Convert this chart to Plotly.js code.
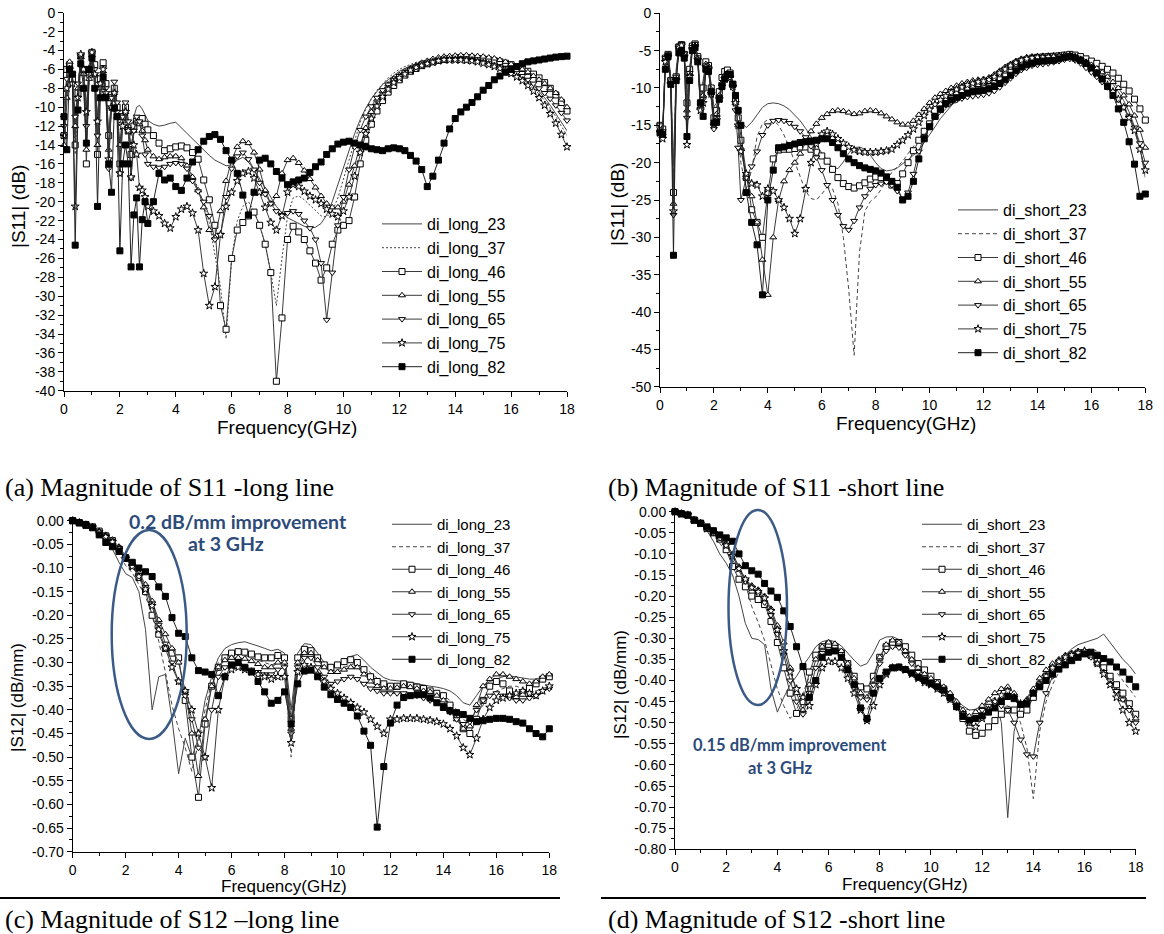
<!DOCTYPE html>
<html><head><meta charset="utf-8">
<script src="https://cdn.plot.ly/plotly-3.0.1.min.js"></script>
<style>html,body{margin:0;padding:0;background:#fff;}#chart{width:1164px;height:934px;}</style>
</head><body><div id="chart"></div>
<script>
// ---------- frequency grids (GHz) ----------
const fS11 = [0,0.1,0.2,0.3,0.4,0.5,0.6,0.7,0.8,0.9,1.0,1.1,1.2,1.3,1.4,1.5,1.6,1.7,1.8,1.9,2.0,2.1,2.2,2.3,2.4,2.5,2.6,2.7,2.8,2.9,3.0,
 3.2,3.4,3.6,3.8,4.0,4.2,4.4,4.6,4.8,5.0,5.2,5.4,5.6,5.8,6.0,6.2,6.4,6.6,6.8,7.0,7.2,7.4,7.6,7.8,8.0,8.2,8.4,8.6,8.8,9.0,9.2,9.4,9.6,9.8,10.0,
 10.2,10.4,10.6,10.8,11.0,11.2,11.4,11.6,11.8,12.0,12.2,12.4,12.6,12.8,13.0,13.2,13.4,13.6,13.8,14.0,14.2,14.4,14.6,14.8,15.0,15.2,15.4,15.6,15.8,16.0,16.2,16.4,16.6,16.8,17.0,17.2,17.4,17.6,17.8,18.0];
const fS12 = [0,0.25,0.5,0.75,1,1.25,1.5,1.75,2,2.25,2.5,2.75,3,3.25,3.5,3.75,4,4.25,4.5,4.75,5,5.25,5.5,5.75,
 6,6.25,6.5,6.75,7,7.25,7.5,7.75,8,8.25,8.5,8.75,9,9.25,9.5,9.75,10,10.25,10.5,10.75,11,11.25,11.5,11.75,
 12,12.25,12.5,12.75,13,13.25,13.5,13.75,14,14.25,14.5,14.75,15,15.25,15.5,15.75,16,16.25,16.5,16.75,17,17.25,17.5,17.75,18];

// ---------- (a) |S11| long line (dB) ----------
const s11Long23 = [-10,-7,-5.8,-6.5,-13,-8,-4.8,-6,-10,-5.5,-4.3,-6.5,-11,-7.5,-6,-8,-13,-9.5,-8,-10,-14,-10.5,-9.5,-11.5,-13,-11,-10,-9.8,-10.2,-10.8,-11.4,
 -11.8,-12,-11.9,-11.7,-11.6,-12.2,-12.8,-13.4,-14,-14.6,-15.1,-15.6,-15.9,-16.2,-16.1,-15.6,-15.3,-15.8,-16.6,-17.6,-18.6,-19.6,-20.5,-21.2,-21.7,-22,-22.3,-22.6,-22.8,-22.7,-22.3,-21.4,-20,-18.2,-16.4,
 -14.5,-12.8,-11.3,-10.1,-9.1,-8.3,-7.6,-7.1,-6.6,-6.2,-5.9,-5.6,-5.4,-5.2,-5.1,-5.0,-4.9,-4.85,-4.8,-4.8,-4.8,-4.85,-4.9,-5.0,-5.1,-5.25,-5.4,-5.6,-5.85,-6.1,-6.4,-6.8,-7.2,-7.7,-8.3,-9.0,-9.8,-10.7,-11.6,-12.5];
const s11Long37 = [-12,-8,-6,-7,-15,-9,-5,-6.5,-11,-6,-4.6,-7,-12,-8,-6.2,-8.5,-14,-10,-8.2,-10.5,-15,-11,-10,-12,-15,-12.5,-11.5,-11.8,-12.5,-13.5,-14.5,
 -15.2,-15.6,-15.5,-15.2,-15,-15.3,-16,-17.2,-18.6,-20.2,-22.2,-25.5,-29,-34.5,-26,-22,-20.5,-20,-21,-22.5,-24.5,-27.5,-31,-26,-21.5,-19.6,-19.4,-19.8,-20.4,-21,-21.5,-21.6,-21,-19.6,-17.6,
 -15.4,-13.4,-11.6,-10.2,-9.1,-8.2,-7.5,-6.9,-6.4,-6.0,-5.7,-5.45,-5.25,-5.1,-5.0,-4.9,-4.8,-4.75,-4.7,-4.7,-4.75,-4.8,-4.9,-5.0,-5.15,-5.3,-5.5,-5.7,-5.95,-6.2,-6.6,-7.0,-7.5,-8.0,-8.6,-9.3,-10.1,-11.0,-12.0,-13.0];
const s11Long46 = [-13,-6,-5.5,-7,-14,-8.5,-4.6,-6,-16,-6.5,-4.2,-5.5,-15,-7,-5.3,-7.5,-13,-9,-8,-10,-16,-11,-10,-12.5,-15,-12,-11.5,-11.2,-11.2,-11.8,-12.4,
 -13,-13.8,-14.6,-14.4,-14.2,-14.1,-14.3,-14.8,-15.5,-17.7,-19.8,-22.5,-31,-33.5,-26,-23,-22.2,-21.5,-21.1,-22.5,-24.5,-27.5,-39,-32.3,-24,-22.6,-23.2,-24,-25.2,-26.5,-28.3,-27,-24.5,-23,-22.5,
 -22,-19.5,-16,-13.5,-11.8,-10.4,-9.3,-8.4,-7.7,-7.1,-6.6,-6.2,-5.9,-5.6,-5.4,-5.2,-5.05,-4.95,-4.85,-4.8,-4.75,-4.75,-4.8,-4.85,-4.9,-5.0,-5.1,-5.2,-5.35,-5.5,-5.7,-5.9,-6.2,-6.5,-6.9,-7.4,-8.0,-8.7,-9.5,-10.4];
const s11Long55 = [-14,-9,-5.2,-6.5,-12,-8,-4.7,-6.5,-14.5,-7,-4.5,-6.5,-14,-8,-6.2,-8.5,-14.5,-10,-8.5,-11,-14,-11.5,-10.5,-12,-14,-12.5,-11.5,-11.8,-12.5,-13.5,-14.5,
 -15.2,-15.5,-15.3,-15.2,-15.2,-15.4,-16.2,-17.4,-18.8,-20.6,-23,-23.8,-21,-17.8,-15.6,-14.2,-13.6,-13.8,-14.8,-16.6,-18.8,-20.2,-19.4,-17,-15.6,-15.4,-15.9,-16.7,-17.6,-18.5,-19.4,-20.2,-20.6,-20.6,-20,
 -18.2,-16.2,-14,-12.2,-10.5,-9.2,-8.3,-7.6,-7.0,-6.6,-6.2,-5.9,-5.6,-5.3,-5.1,-4.9,-4.75,-4.65,-4.6,-4.55,-4.5,-4.5,-4.55,-4.6,-4.65,-4.75,-4.85,-5.0,-5.2,-5.45,-5.7,-6.0,-6.3,-6.7,-7.1,-7.5,-8.0,-8.5,-9.2,-10];
const s11Long65 = [-12,-7,-5.5,-6.5,-11,-7.5,-4.6,-6,-12,-6.5,-4.4,-6,-13,-7.5,-5.8,-8,-16.5,-9,-7.3,-9.5,-17,-11,-9.5,-11.5,-17.5,-12.5,-11,-11.5,-13,-15,-16,
 -16.3,-16.4,-16.3,-16,-15.9,-16,-16.5,-17.8,-18.9,-20,-21.5,-24,-23.5,-19.5,-16.5,-15.2,-14.8,-15.5,-16.6,-18,-19.2,-20.2,-21,-21.4,-21.2,-21,-21.3,-22,-22.8,-24,-26.5,-32.5,-27.5,-22.5,-19.5,
 -16.6,-14.2,-12.4,-11.0,-9.9,-9.0,-8.2,-7.6,-7.1,-6.7,-6.3,-6.0,-5.7,-5.5,-5.3,-5.15,-5.0,-4.95,-4.9,-4.9,-4.9,-4.95,-5.0,-5.1,-5.2,-5.35,-5.5,-5.7,-5.9,-6.15,-6.4,-6.7,-7.1,-7.5,-8.0,-8.5,-9.1,-9.8,-10.6,-11.4];
const s11Long75 = [-13,-8,-6,-7.5,-20.5,-9,-4.4,-6,-10.5,-6,-4.2,-6.5,-11.5,-7.5,-6,-8.5,-15.5,-10,-8.5,-10.5,-17,-12,-10.5,-12.5,-17.4,-14,-15,-18.5,-18.8,-19.5,-20.5,
 -21,-21.5,-22.3,-22.8,-21.6,-20.8,-20.5,-21.2,-23,-27.6,-31,-29,-23.5,-20.5,-19,-17.8,-17,-16.8,-17.5,-19,-20.6,-22.2,-23,-21.5,-19,-18.2,-18.4,-18.9,-19.4,-19.8,-20.2,-20.8,-21.3,-21.6,-21,
 -19.5,-17.3,-14.8,-12.8,-11.2,-9.9,-8.9,-8.1,-7.4,-6.9,-6.5,-6.1,-5.8,-5.6,-5.4,-5.25,-5.1,-5.0,-5.0,-5.0,-5.0,-5.05,-5.1,-5.2,-5.35,-5.5,-5.7,-5.9,-6.15,-6.45,-6.8,-7.2,-7.7,-8.3,-9.0,-9.8,-10.7,-11.7,-12.9,-14.2];
const s11Long82 = [-11,-14.5,-6,-6.5,-24.6,-10.3,-5.4,-8,-13.8,-6,-4.8,-8,-20.5,-9,-6.8,-9,-16,-19,-10.1,-11,-25.2,-16,-14,-16,-26.9,-21.4,-19.6,-26.9,-21.9,-20,-22.3,
 -20,-17,-17.7,-17.5,-18.4,-18.8,-17.5,-15.8,-14.5,-13.6,-13.1,-12.9,-13.4,-14.6,-15.6,-17.0,-19.3,-21.4,-19,-15.6,-15.4,-16,-16.8,-17.5,-18.2,-17.9,-17.7,-17.5,-16.9,-16.3,-15.8,-15,-14.4,-13.9,-13.7,
 -13.6,-13.8,-14.0,-14.2,-14.4,-14.5,-14.6,-14.4,-14.3,-14.4,-14.6,-15.1,-15.7,-16.6,-18.4,-17.3,-15.6,-13.8,-12.3,-11.2,-10.5,-10.0,-9.5,-8.9,-8.2,-7.7,-7.1,-6.7,-6.3,-6.0,-5.7,-5.4,-5.2,-5.1,-5.0,-4.9,-4.8,-4.7,-4.65,-4.6];

// ---------- (b) |S11| short line (dB) ----------
const s11Short23 = [-15,-15.5,-6,-5.4,-8.5,-20,-7.5,-4.5,-4.3,-5.5,-10,-7,-4.5,-4.3,-5.8,-10.5,-9,-6.5,-7,-9.5,-12.5,-12,-10,-8.8,-8,-7.8,-8.2,-9.2,-11,-13,-14.5,
 -15.3,-14.6,-13.6,-12.6,-12.1,-12,-12.1,-12.4,-12.9,-13.6,-14.4,-15.4,-16.5,-17.7,-18.8,-19.8,-20.6,-20.8,-19.9,-18.7,-18,-17.9,-18.2,-19,-20,-20.8,-21.1,-21,-20.7,-20.2,-19.6,-19,-18.3,-17.3,-16.3,
 -15.2,-14.1,-13.2,-12.4,-11.7,-11.1,-10.6,-10.2,-9.9,-9.7,-9.5,-9.3,-9.0,-8.6,-8.1,-7.6,-7.2,-6.9,-6.7,-6.5,-6.4,-6.3,-6.25,-6.15,-6.0,-5.9,-6.0,-6.2,-6.5,-6.9,-7.4,-8.0,-8.7,-9.5,-10.5,-11.7,-13.2,-15.2,-18,-22];
const s11Short37 = [-15.5,-16,-6.5,-5.6,-9,-22,-8,-4.6,-4.4,-5.6,-11,-7.5,-4.6,-4.4,-6,-11,-9.5,-6.7,-7.2,-10,-13,-12.5,-10.5,-9.2,-8.3,-8,-8.5,-10,-12.5,-16,-20,
 -23.5,-21,-16.5,-14.8,-14.2,-14.3,-15,-16.3,-18,-20,-22,-23.8,-24.8,-25,-24.2,-23.3,-23.5,-25.5,-30,-37,-45.8,-32,-26.5,-25.2,-24.6,-23.6,-22.3,-21.3,-20.6,-19.8,-18.8,-17.8,-16.8,-15.8,-14.9,
 -14.1,-13.4,-12.8,-12.3,-11.9,-11.5,-11.2,-11.0,-10.9,-10.8,-10.6,-10.2,-9.6,-9.0,-8.4,-7.9,-7.5,-7.2,-7.0,-6.9,-6.8,-6.75,-6.6,-6.4,-6.2,-6.1,-6.2,-6.5,-7.0,-7.6,-8.3,-9.0,-9.8,-10.6,-11.6,-12.7,-14.0,-15.6,-18.0,-21.5];
const s11Short46 = [-15,-15.5,-6,-5.5,-9,-24,-8.5,-4.5,-4.2,-5.5,-12,-7.5,-4.4,-4.1,-5.8,-12,-10,-6.5,-7,-10,-14,-13,-10.5,-8.6,-7.8,-7.6,-8,-9.5,-11.5,-14,-17,
 -22,-26.3,-28,-30,-24,-19.5,-18.3,-18.2,-18.2,-18.1,-17.9,-17.9,-18.2,-18.6,-19.1,-19.8,-20.9,-22,-22.8,-23.2,-23.4,-23.1,-22.7,-22.2,-21.9,-22,-22.4,-23,-22.8,-21.5,-20,-18.4,-17,-15.8,-14.8,
 -13.8,-12.9,-12.1,-11.4,-10.8,-10.3,-9.9,-9.6,-9.4,-9.2,-9.0,-8.6,-8.1,-7.6,-7.1,-6.7,-6.4,-6.2,-6.0,-5.9,-5.85,-5.8,-5.75,-5.7,-5.6,-5.5,-5.6,-5.8,-6.1,-6.4,-6.7,-7.1,-7.5,-8.0,-8.7,-9.5,-10.4,-11.5,-12.8,-14.3];
const s11Short55 = [-15.5,-16,-6.2,-5.5,-9.2,-25.5,-8.6,-4.5,-4.2,-5.6,-13,-8,-4.6,-4.2,-6,-12.5,-11,-6.8,-7.1,-10.2,-14.5,-13.5,-11,-9.3,-8.4,-8,-8.4,-9.5,-12,-15,-18,
 -22,-24.5,-28,-33,-37.7,-30,-25,-22.5,-21,-20,-18.8,-17.3,-15.8,-14.8,-14,-13.5,-13.1,-13,-13.1,-13.3,-13.5,-13.4,-13.1,-13,-13.1,-13.4,-13.8,-14.2,-14.6,-14.9,-14.9,-14.4,-13.6,-12.8,-12,
 -11.3,-10.8,-10.4,-10.0,-9.7,-9.4,-9.2,-9.0,-8.9,-8.8,-8.6,-8.2,-7.7,-7.2,-6.8,-6.4,-6.1,-5.9,-5.8,-5.75,-5.7,-5.7,-5.7,-5.65,-5.6,-5.6,-5.8,-6.1,-6.5,-6.9,-7.4,-7.9,-8.5,-9.2,-10.0,-11.0,-12.2,-13.7,-15.6,-18];
const s11Short65 = [-15,-15.8,-6,-5.5,-9,-27,-8.5,-4.4,-4.1,-5.4,-14,-8,-4.5,-4.1,-5.9,-12.8,-11.5,-7,-7.3,-11,-15.5,-14,-11.2,-9.5,-8.6,-8.2,-8.6,-10,-13,-18,-25,
 -22,-20.5,-18.5,-16.3,-15,-14.4,-14.3,-14.4,-14.7,-15.2,-15.8,-16.6,-17.8,-19.3,-21,-23,-25,-27,-28.5,-29,-27.8,-26,-24.5,-23.5,-23,-22.8,-22.6,-23,-23.8,-24.8,-24,-21.5,-18.5,-16.5,-15,
 -13.8,-12.9,-12.3,-11.9,-11.6,-11.4,-11.2,-11.1,-11.0,-10.9,-10.7,-10.4,-9.9,-9.3,-8.7,-8.1,-7.6,-7.3,-7.0,-6.9,-6.8,-6.7,-6.55,-6.4,-6.2,-6.1,-6.3,-6.7,-7.3,-7.9,-8.5,-9.2,-9.9,-10.7,-11.6,-12.6,-13.8,-15.3,-17.4,-20];
const s11Short75 = [-16,-16.8,-6.5,-5.8,-9.5,-26.5,-9,-4.6,-4.3,-5.8,-17.6,-8.5,-4.8,-4.4,-6.2,-13,-12,-7.2,-7.5,-10.8,-15,-14.3,-11.5,-9.8,-8.8,-8.3,-8.6,-9.8,-12,-15,-18.5,
 -21.5,-22.8,-23,-24.5,-23.5,-23.8,-25,-26,-27.5,-29.5,-27.5,-23.5,-20,-17.5,-16.2,-15.8,-16.2,-16.8,-17.4,-17.9,-18.3,-18.5,-18.6,-18.6,-18.6,-18.5,-18.4,-18.2,-17.6,-17,-16.3,-15.5,-14.6,-13.7,-12.9,
 -12.2,-11.6,-11.1,-10.6,-10.2,-9.9,-9.6,-9.4,-9.2,-9.1,-8.9,-8.5,-8.0,-7.5,-7.0,-6.6,-6.3,-6.1,-6.0,-5.9,-5.9,-5.85,-5.8,-5.75,-5.7,-5.65,-5.9,-6.3,-6.8,-7.4,-8.1,-8.8,-9.6,-10.5,-11.5,-12.6,-14.0,-15.7,-18.2,-21];
const s11Short82 = [-16,-16.2,-7.5,-5.8,-9.5,-32.4,-9,-5.3,-5,-6,-16.5,-9,-5,-4.6,-6.5,-12,-13.8,-7.5,-7.8,-10.5,-14.7,-14.6,-11.5,-9.8,-8.8,-8.2,-8.2,-9.5,-11,-13,-15,
 -24,-28,-31,-37.7,-25,-21,-18,-17.9,-17.7,-17.5,-17.3,-17.2,-17.1,-17,-16.8,-16.8,-17.3,-18,-18.8,-19.5,-20,-20.4,-20.7,-20.9,-21.1,-21.4,-21.9,-22.5,-23.3,-25,-24.5,-22.5,-19.5,-16.8,-15.2,
 -13.8,-12.8,-12.1,-11.6,-11.3,-11.0,-10.7,-10.5,-10.4,-10.3,-10.1,-9.8,-9.4,-8.9,-8.3,-7.7,-7.2,-6.9,-6.7,-6.5,-6.4,-6.35,-6.3,-6.1,-5.9,-5.8,-6.0,-6.3,-6.7,-7.3,-8.0,-8.8,-9.8,-11.0,-12.8,-14.6,-17.2,-20.2,-24.5,-24.2];

// ---------- (c) |S12| long line (dB/mm) ----------
const s12Long23 = [0,-0.005,-0.01,-0.015,-0.025,-0.035,-0.06,-0.088,-0.112,-0.12,-0.15,-0.23,-0.4,-0.33,-0.325,-0.42,
 -0.535,-0.46,-0.5,-0.46,-0.38,-0.33,-0.29,-0.27,-0.262,-0.258,-0.256,-0.26,-0.265,-0.27,-0.275,-0.272,
 -0.28,-0.4,-0.28,-0.26,-0.262,-0.28,-0.3,-0.31,-0.305,-0.295,-0.287,-0.283,-0.295,-0.31,-0.322,-0.332,
 -0.337,-0.338,-0.34,-0.342,-0.345,-0.348,-0.35,-0.352,-0.355,-0.36,-0.37,-0.385,-0.39,-0.37,-0.35,-0.34,
 -0.335,-0.33,-0.328,-0.33,-0.332,-0.335,-0.335,-0.33,-0.325];
const s12Long37 = [0,-0.004,-0.009,-0.014,-0.024,-0.034,-0.045,-0.07,-0.095,-0.11,-0.135,-0.16,-0.2,-0.255,-0.32,-0.39,
 -0.44,-0.48,-0.53,-0.47,-0.4,-0.34,-0.3,-0.285,-0.28,-0.28,-0.285,-0.29,-0.295,-0.3,-0.305,-0.3,
 -0.3,-0.5,-0.3,-0.275,-0.275,-0.29,-0.31,-0.318,-0.315,-0.31,-0.305,-0.3,-0.31,-0.322,-0.335,-0.345,
 -0.35,-0.352,-0.352,-0.355,-0.358,-0.36,-0.362,-0.365,-0.37,-0.38,-0.4,-0.42,-0.43,-0.41,-0.39,-0.37,
 -0.36,-0.355,-0.35,-0.35,-0.355,-0.36,-0.36,-0.355,-0.35];
const s12Long46 = [0,-0.005,-0.01,-0.013,-0.022,-0.032,-0.042,-0.06,-0.08,-0.095,-0.12,-0.15,-0.2,-0.24,-0.27,-0.28,
 -0.29,-0.38,-0.5,-0.585,-0.43,-0.35,-0.31,-0.29,-0.28,-0.277,-0.278,-0.282,-0.288,-0.29,-0.29,-0.285,
 -0.29,-0.42,-0.29,-0.272,-0.275,-0.29,-0.305,-0.31,-0.305,-0.298,-0.294,-0.3,-0.315,-0.33,-0.34,-0.345,
 -0.35,-0.35,-0.345,-0.348,-0.352,-0.355,-0.36,-0.365,-0.37,-0.39,-0.41,-0.44,-0.45,-0.42,-0.38,-0.35,
 -0.34,-0.345,-0.36,-0.37,-0.365,-0.355,-0.345,-0.335,-0.33];
const s12Long55 = [0,-0.004,-0.009,-0.013,-0.022,-0.03,-0.04,-0.055,-0.075,-0.09,-0.11,-0.135,-0.17,-0.21,-0.24,-0.27,
 -0.3,-0.36,-0.45,-0.54,-0.42,-0.35,-0.31,-0.295,-0.29,-0.29,-0.292,-0.297,-0.303,-0.31,-0.31,-0.3,
 -0.3,-0.44,-0.3,-0.28,-0.28,-0.295,-0.31,-0.32,-0.32,-0.315,-0.31,-0.31,-0.325,-0.34,-0.35,-0.355,
 -0.355,-0.353,-0.35,-0.352,-0.355,-0.36,-0.362,-0.37,-0.38,-0.4,-0.42,-0.44,-0.435,-0.39,-0.35,-0.335,
 -0.325,-0.325,-0.33,-0.335,-0.34,-0.345,-0.34,-0.33,-0.325];
const s12Long65 = [0,-0.004,-0.009,-0.014,-0.023,-0.032,-0.043,-0.058,-0.078,-0.095,-0.115,-0.14,-0.175,-0.22,-0.26,-0.3,
 -0.34,-0.37,-0.42,-0.48,-0.5,-0.4,-0.33,-0.31,-0.305,-0.305,-0.31,-0.315,-0.32,-0.325,-0.325,-0.315,
 -0.31,-0.45,-0.31,-0.29,-0.29,-0.31,-0.33,-0.345,-0.34,-0.335,-0.33,-0.335,-0.345,-0.355,-0.36,-0.365,
 -0.365,-0.365,-0.365,-0.37,-0.37,-0.375,-0.38,-0.385,-0.39,-0.405,-0.42,-0.43,-0.425,-0.4,-0.38,-0.37,
 -0.365,-0.37,-0.375,-0.38,-0.38,-0.375,-0.37,-0.36,-0.355];
const s12Long75 = [0,-0.004,-0.009,-0.014,-0.024,-0.034,-0.045,-0.06,-0.08,-0.097,-0.118,-0.145,-0.18,-0.23,-0.27,-0.31,
 -0.34,-0.36,-0.4,-0.45,-0.5,-0.565,-0.4,-0.33,-0.315,-0.31,-0.315,-0.32,-0.325,-0.33,-0.335,-0.33,
 -0.33,-0.47,-0.32,-0.305,-0.31,-0.325,-0.34,-0.355,-0.365,-0.375,-0.385,-0.395,-0.405,-0.42,-0.435,-0.45,
 -0.42,-0.42,-0.418,-0.418,-0.418,-0.42,-0.422,-0.425,-0.43,-0.44,-0.455,-0.48,-0.495,-0.46,-0.42,-0.395,
 -0.38,-0.375,-0.37,-0.365,-0.36,-0.365,-0.37,-0.36,-0.35];
const s12Long82 = [0,-0.004,-0.008,-0.015,-0.03,-0.046,-0.055,-0.065,-0.078,-0.088,-0.1,-0.108,-0.118,-0.14,-0.16,-0.205,
 -0.238,-0.245,-0.29,-0.317,-0.32,-0.325,-0.37,-0.33,-0.305,-0.3,-0.31,-0.32,-0.34,-0.362,-0.386,-0.38,
 -0.362,-0.43,-0.345,-0.318,-0.316,-0.33,-0.352,-0.368,-0.378,-0.386,-0.395,-0.413,-0.445,-0.475,-0.648,-0.52,
 -0.428,-0.39,-0.374,-0.37,-0.368,-0.368,-0.375,-0.385,-0.395,-0.402,-0.406,-0.41,-0.418,-0.425,-0.423,-0.42,
 -0.418,-0.418,-0.42,-0.425,-0.428,-0.44,-0.45,-0.457,-0.44];

// ---------- (d) |S12| short line (dB/mm) ----------
const s12Short23 = [0,-0.005,-0.008,-0.02,-0.03,-0.045,-0.07,-0.1,-0.122,-0.15,-0.2,-0.265,-0.3,-0.303,-0.315,-0.42,
 -0.475,-0.44,-0.41,-0.39,-0.365,-0.344,-0.32,-0.308,-0.304,-0.308,-0.318,-0.335,-0.352,-0.366,-0.36,-0.335,
 -0.304,-0.297,-0.296,-0.303,-0.325,-0.348,-0.37,-0.385,-0.395,-0.405,-0.415,-0.43,-0.445,-0.46,-0.47,-0.468,
 -0.46,-0.45,-0.44,-0.5,-0.725,-0.52,-0.46,-0.44,-0.42,-0.4,-0.385,-0.37,-0.355,-0.34,-0.325,-0.315,
 -0.31,-0.305,-0.3,-0.29,-0.31,-0.33,-0.35,-0.365,-0.385];
const s12Short37 = [0,-0.005,-0.008,-0.02,-0.028,-0.04,-0.055,-0.075,-0.095,-0.115,-0.14,-0.17,-0.225,-0.262,-0.305,-0.36,
 -0.42,-0.46,-0.49,-0.47,-0.43,-0.39,-0.37,-0.355,-0.35,-0.36,-0.375,-0.4,-0.43,-0.455,-0.47,-0.44,
 -0.41,-0.39,-0.375,-0.37,-0.375,-0.385,-0.395,-0.405,-0.415,-0.425,-0.435,-0.445,-0.455,-0.465,-0.47,-0.47,
 -0.465,-0.46,-0.455,-0.455,-0.46,-0.47,-0.5,-0.56,-0.68,-0.52,-0.45,-0.41,-0.38,-0.36,-0.345,-0.335,
 -0.33,-0.325,-0.33,-0.345,-0.36,-0.38,-0.4,-0.42,-0.44];
const s12Short46 = [0,-0.005,-0.008,-0.02,-0.028,-0.04,-0.05,-0.065,-0.09,-0.13,-0.16,-0.178,-0.2,-0.208,-0.22,-0.26,
 -0.31,-0.37,-0.43,-0.478,-0.45,-0.38,-0.34,-0.32,-0.315,-0.32,-0.335,-0.36,-0.39,-0.415,-0.42,-0.39,
 -0.345,-0.32,-0.31,-0.31,-0.32,-0.34,-0.36,-0.375,-0.39,-0.405,-0.42,-0.44,-0.46,-0.49,-0.52,-0.53,
 -0.525,-0.51,-0.495,-0.48,-0.47,-0.47,-0.48,-0.47,-0.44,-0.41,-0.39,-0.375,-0.36,-0.35,-0.34,-0.335,
 -0.335,-0.34,-0.355,-0.37,-0.39,-0.41,-0.43,-0.455,-0.48];
const s12Short55 = [0,-0.005,-0.008,-0.02,-0.028,-0.038,-0.048,-0.06,-0.075,-0.1,-0.13,-0.16,-0.175,-0.185,-0.2,-0.23,
 -0.27,-0.31,-0.37,-0.43,-0.47,-0.41,-0.35,-0.32,-0.31,-0.313,-0.33,-0.36,-0.395,-0.43,-0.44,-0.4,
 -0.345,-0.315,-0.305,-0.31,-0.33,-0.35,-0.37,-0.385,-0.395,-0.405,-0.415,-0.43,-0.45,-0.47,-0.485,-0.475,
 -0.46,-0.445,-0.43,-0.42,-0.415,-0.43,-0.455,-0.445,-0.42,-0.395,-0.375,-0.36,-0.35,-0.34,-0.335,-0.33,
 -0.33,-0.34,-0.36,-0.38,-0.405,-0.425,-0.445,-0.465,-0.49];
const s12Short65 = [0,-0.005,-0.008,-0.02,-0.028,-0.04,-0.05,-0.062,-0.08,-0.105,-0.135,-0.165,-0.18,-0.195,-0.215,-0.245,
 -0.29,-0.34,-0.4,-0.45,-0.48,-0.43,-0.37,-0.335,-0.325,-0.33,-0.345,-0.375,-0.41,-0.44,-0.445,-0.41,
 -0.36,-0.33,-0.32,-0.322,-0.34,-0.36,-0.38,-0.395,-0.405,-0.415,-0.43,-0.445,-0.465,-0.485,-0.5,-0.49,
 -0.47,-0.46,-0.455,-0.46,-0.47,-0.5,-0.54,-0.575,-0.58,-0.5,-0.43,-0.39,-0.365,-0.35,-0.34,-0.335,
 -0.335,-0.345,-0.36,-0.38,-0.4,-0.425,-0.445,-0.47,-0.5];
const s12Short75 = [0,-0.005,-0.008,-0.02,-0.028,-0.04,-0.05,-0.063,-0.08,-0.105,-0.135,-0.16,-0.18,-0.19,-0.205,-0.235,
 -0.28,-0.33,-0.38,-0.42,-0.44,-0.46,-0.41,-0.37,-0.355,-0.355,-0.37,-0.395,-0.43,-0.47,-0.495,-0.46,
 -0.41,-0.385,-0.37,-0.37,-0.375,-0.385,-0.395,-0.405,-0.41,-0.42,-0.43,-0.445,-0.46,-0.48,-0.5,-0.51,
 -0.49,-0.47,-0.45,-0.435,-0.425,-0.44,-0.455,-0.45,-0.43,-0.41,-0.39,-0.37,-0.355,-0.345,-0.34,-0.335,
 -0.33,-0.34,-0.36,-0.385,-0.41,-0.44,-0.47,-0.5,-0.52];
const s12Short82 = [0,-0.005,-0.008,-0.02,-0.027,-0.036,-0.045,-0.055,-0.062,-0.07,-0.1,-0.128,-0.14,-0.148,-0.17,-0.188,
 -0.203,-0.235,-0.272,-0.32,-0.367,-0.44,-0.4,-0.345,-0.333,-0.33,-0.345,-0.375,-0.41,-0.465,-0.49,-0.43,
 -0.395,-0.38,-0.37,-0.368,-0.374,-0.382,-0.392,-0.4,-0.407,-0.415,-0.423,-0.44,-0.462,-0.485,-0.494,-0.49,
 -0.484,-0.475,-0.465,-0.45,-0.438,-0.443,-0.457,-0.455,-0.43,-0.415,-0.4,-0.385,-0.373,-0.363,-0.353,-0.345,
 -0.337,-0.333,-0.34,-0.348,-0.356,-0.368,-0.38,-0.397,-0.415];

// ---------- tick values / labels ----------
const freqTicks = [0,2,4,6,8,10,12,14,16,18];
const s11LongTicks = [0,-2,-4,-6,-8,-10,-12,-14,-16,-18,-20,-22,-24,-26,-28,-30,-32,-34,-36,-38,-40];
const s11ShortTicks = [0,-5,-10,-15,-20,-25,-30,-35,-40,-45,-50];
const s12LongTicks = [0,-0.05,-0.10,-0.15,-0.20,-0.25,-0.30,-0.35,-0.40,-0.45,-0.50,-0.55,-0.60,-0.65,-0.70];
const s12ShortTicks = [0,-0.05,-0.10,-0.15,-0.20,-0.25,-0.30,-0.35,-0.40,-0.45,-0.50,-0.55,-0.60,-0.65,-0.70,-0.75,-0.80];
const seriesIds = ['23','37','46','55','65','75','82'];

// ---------- drawing ----------
const W = 1164, H = 934;
const PX = v => v / W, PY = v => 1 - v / H;
const SANS = '"Liberation Sans", Arial, Helvetica, sans-serif';
const SERIF = '"Liberation Serif", "Times New Roman", serif';
const NOTE = 'Lato, "Open Sans", sans-serif';

function styleFor(id, dashKind, msize) {
  const ln = {color:'#3a3a3a', width:1};
  const wm = sym => ({symbol:sym, size:msize, color:'#ffffff', line:{color:'#000', width:1}});
  switch(id){
    case '23': return {mode:'lines', line:{color:'#444', width:1}};
    case '37': return {mode:'lines', line:{color:'#444', width:1, dash:dashKind}};
    case '46': return {mode:'lines+markers', line:ln, marker:wm('square')};
    case '55': return {mode:'lines+markers', line:ln, marker:wm('triangle-up')};
    case '65': return {mode:'lines+markers', line:ln, marker:wm('triangle-down')};
    case '75': return {mode:'lines+markers', line:ln, marker:wm('star')};
    case '82': return {mode:'lines+markers', line:{color:'#222', width:1}, marker:{symbol:'square', size:msize, color:'#000', line:{color:'#000', width:1}}};
  }
}

const panels = [
  {xa:'x',  ya:'y',  lg:'legend',  prefix:'di_long_',  x:fS11, dash:'2px,2px', ms:6,
   ys:[s11Long23,s11Long37,s11Long46,s11Long55,s11Long65,s11Long75,s11Long82]},
  {xa:'x2', ya:'y2', lg:'legend2', prefix:'di_short_', x:fS11, dash:'4px,3px', ms:6,
   ys:[s11Short23,s11Short37,s11Short46,s11Short55,s11Short65,s11Short75,s11Short82]},
  {xa:'x3', ya:'y3', lg:'legend3', prefix:'di_long_',  x:fS12, dash:'4px,3px', ms:6,
   ys:[s12Long23,s12Long37,s12Long46,s12Long55,s12Long65,s12Long75,s12Long82]},
  {xa:'x4', ya:'y4', lg:'legend4', prefix:'di_short_', x:fS12, dash:'4px,3px', ms:6,
   ys:[s12Short23,s12Short37,s12Short46,s12Short55,s12Short65,s12Short75,s12Short82]}
];

const traces = [];
panels.forEach(p => {
  seriesIds.forEach((id, i) => {
    const st = styleFor(id, p.dash, p.ms);
    traces.push(Object.assign({
      type:'scatter', x:p.x, y:p.ys[i], xaxis:p.xa, yaxis:p.ya, legend:p.lg,
      name:p.prefix + id, cliponaxis:false, hoverinfo:'skip'
    }, st));
  });
});

function xAxis(d0, d1, anchor) {
  return {domain:[PX(d0), PX(d1)], anchor:anchor, range:[0,18], tickmode:'array',
    tickvals:freqTicks, ticktext:freqTicks.map(String),
    showline:true, linecolor:'#000', linewidth:1, ticks:'outside', ticklen:5, tickwidth:1, tickcolor:'#000',
    minor:{tickmode:'linear', tick0:0, dtick:1, ticks:'outside', ticklen:3, tickwidth:1, tickcolor:'#000', showgrid:false},
    showgrid:false, zeroline:false, fixedrange:true,
    tickfont:{family:SANS, size:14, color:'#000'}};
}
function yAxis(top, bottom, anchor, ticks, lo, minorStep, fmt) {
  return {domain:[PY(bottom), PY(top)], anchor:anchor, range:[lo,0], tickmode:'array',
    tickvals:ticks, ticktext:ticks.map(fmt),
    showline:true, linecolor:'#000', linewidth:1, ticks:'outside', ticklen:5, tickwidth:1, tickcolor:'#000',
    minor:{tickmode:'linear', tick0:0, dtick:minorStep, ticks:'outside', ticklen:3, tickwidth:1, tickcolor:'#000', showgrid:false},
    showgrid:false, zeroline:false, fixedrange:true,
    tickfont:{family:SANS, size:14, color:'#000'}};
}

function legendAt(left, top, size) {
  return {x:PX(left), y:PY(top), xanchor:'left', yanchor:'top', bgcolor:'rgba(0,0,0,0)',
    borderwidth:0, itemwidth:40, tracegroupgap:0,
    font:{family:SANS, size:size, color:'#000'}};
}

function txt(text, x, y, size, opts) {
  return Object.assign({text:text, xref:'paper', yref:'paper', x:PX(x), y:PY(y), showarrow:false,
    xanchor:'center', yanchor:'middle', font:{family:SANS, size:size, color:'#000'}}, opts || {});
}

const blue = '#2d4b7a';
const annotations = [
  txt('|S11| (dB)', 18, 207, 19, {textangle:-90}),
  txt('Frequency(GHz)', 287, 427, 19),
  txt('|S11| (dB)', 617, 205, 19, {textangle:-90}),
  txt('Frequency(GHz)', 906, 423, 19),
  txt('|S12| (dB/mm)', 17, 698, 17, {textangle:-90}),
  txt('Frequency(GHz)', 284, 886, 17),
  txt('|S12| (dB/mm)', 620, 685, 17, {textangle:-90}),
  txt('Frequency(GHz)', 905, 884, 17),
  txt('0.2 dB/mm improvement', 238, 521, 19.5, {font:{family:NOTE, size:19.5, color:blue, weight:700}}),
  txt('at 3 GHz', 226, 543, 19.5, {font:{family:NOTE, size:19.5, color:blue, weight:700}}),
  txt('0.15 dB/mm improvement', 790, 745, 16.5, {font:{family:NOTE, size:16.5, color:blue, weight:700}}),
  txt('at 3 GHz', 781, 768, 16.5, {font:{family:NOTE, size:16.5, color:blue, weight:700}}),
  txt('(a) Magnitude of S11 -long line', 3, 488, 26, {xanchor:'left', font:{family:SERIF, size:26, color:'#000'}}),
  txt('(b) Magnitude of S11 -short line', 606, 488, 26, {xanchor:'left', font:{family:SERIF, size:26, color:'#000'}}),
  txt('(c) Magnitude of S12 \u2013long line', 3, 919, 26, {xanchor:'left', font:{family:SERIF, size:26, color:'#000'}}),
  txt('(d) Magnitude of S12 -short line', 606, 919, 26, {xanchor:'left', font:{family:SERIF, size:26, color:'#000'}})
];

const shapes = [
  {type:'circle', xref:'paper', yref:'paper', x0:PX(111.7), x1:PX(186.7), y0:PY(739), y1:PY(530), line:{color:'#3b5b86', width:2.5}},
  {type:'circle', xref:'paper', yref:'paper', x0:PX(728.5), x1:PX(787), y0:PY(705), y1:PY(510), line:{color:'#3b5b86', width:2.5}},
  {type:'line', xref:'paper', yref:'paper', x0:PX(0), x1:PX(560), y0:PY(898), y1:PY(898), line:{color:'#000', width:2}},
  {type:'line', xref:'paper', yref:'paper', x0:PX(601), x1:PX(1146), y0:PY(898), y1:PY(898), line:{color:'#000', width:2}}
];

const layout = {
  width:W, height:H, autosize:false, margin:{l:0,r:0,t:0,b:0,pad:0},
  paper_bgcolor:'#fff', plot_bgcolor:'rgba(0,0,0,0)', showlegend:true,
  xaxis: xAxis(64, 567, 'y'),
  yaxis: yAxis(12.7, 390.7, 'x', s11LongTicks, -40, 1, v => String(v)),
  xaxis2: xAxis(660, 1145.3, 'y2'),
  yaxis2: yAxis(13.3, 386.7, 'x2', s11ShortTicks, -50, 2.5, v => String(v)),
  xaxis3: xAxis(72.7, 549.3, 'y3'),
  yaxis3: yAxis(520.7, 851.7, 'x3', s12LongTicks, -0.70, 0.025, v => v.toFixed(2)),
  xaxis4: xAxis(675, 1135.7, 'y4'),
  yaxis4: yAxis(511.7, 849.3, 'x4', s12ShortTicks, -0.80, 0.025, v => v.toFixed(2)),
  legend: legendAt(377, 207, 16),
  legend2: legendAt(953, 193, 16),
  legend3: legendAt(387, 508, 15),
  legend4: legendAt(917, 508, 15),
  annotations: annotations,
  shapes: shapes
};

Plotly.newPlot('chart', traces, layout, {staticPlot:true, displayModeBar:false});
</script>
</body></html>
